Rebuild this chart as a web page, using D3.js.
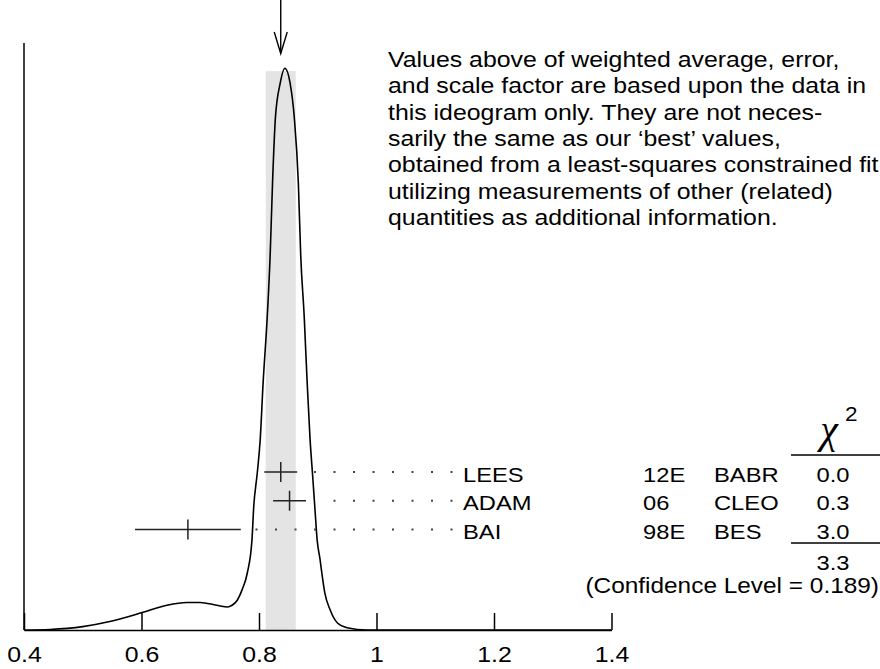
<!DOCTYPE html>
<html>
<head>
<meta charset="utf-8">
<script src="https://cdn.jsdelivr.net/npm/d3@7"></script>
<style>
  html, body { margin: 0; padding: 0; background: #fff; }
  svg { display: block; font-family: "Liberation Sans", Arial, Helvetica, sans-serif; }
</style>
</head>
<body>
<div id="chart"></div>
<script>
// Measurements in the ideogram
const names = ["LEES", "ADAM", "BAI"];
const years = ["12E", "06", "98E"];
const experiments = ["BABR", "CLEO", "BES"];
const values = [0.837, 0.852, 0.679];
const errors = [0.028, 0.028, 0.090];
const chi2 = ["0.0", "0.3", "3.0"];
const chi2Total = "3.3";
const confidence = "(Confidence Level = 0.189)";

// Weighted average and its error (arrow + grey band)
const average = 0.837;
const averageError = 0.0255;

// Ideogram curve (x value, relative height)
const curveX = [0.400, 0.444, 0.500, 0.546, 0.601, 0.643, 0.677, 0.700, 0.728, 0.747,
  0.754, 0.763, 0.771, 0.780, 0.788, 0.791, 0.797, 0.802, 0.807, 0.814, 0.819, 0.823,
  0.828, 0.836, 0.844, 0.853, 0.860, 0.867, 0.871, 0.877, 0.882, 0.887, 0.891, 0.895,
  0.899, 0.904, 0.907, 0.912, 0.921, 0.934, 0.950, 0.984, 1.100, 1.400];
const curveY = [0.000, 0.001, 0.006, 0.015, 0.031, 0.044, 0.049, 0.049, 0.044, 0.041,
  0.044, 0.053, 0.071, 0.101, 0.160, 0.219, 0.279, 0.338, 0.440, 0.557, 0.667, 0.795,
  0.913, 0.973, 1.000, 0.973, 0.913, 0.795, 0.667, 0.557, 0.440, 0.338, 0.279, 0.219,
  0.160, 0.125, 0.101, 0.066, 0.036, 0.012, 0.004, 0.000, 0.000, 0.000];

const xTicks = [0.4, 0.6, 0.8, 1.0, 1.2, 1.4];

const noteLines = [
  "Values above of weighted average, error,",
  "and scale factor are based upon the data in",
  "this ideogram only.  They are not neces-",
  "sarily the same as our \u2018best\u2019 values,",
  "obtained from a least-squares constrained fit",
  "utilizing measurements of other (related)",
  "quantities as additional information."
];

const width = 880, height = 669;
const SX = 1.13; // glyphs in the picture are a bit wider than normal
const FS = 21;

const svg = d3.select("#chart").append("svg")
  .attr("width", width)
  .attr("height", height);

const x = d3.scaleLinear().domain([0.4, 1.4]).range([24, 611.5]);
const y = d3.scaleLinear().domain([0, 1.045]).range([630, 43]);
const row = d3.scaleLinear().domain([0, 2]).range([472, 529.5]);

// helper: horizontally widened text
function label(parent, px, py, str, anchor, size) {
  return parent.append("text")
    .attr("transform", `translate(${px},${py}) scale(${SX},1)`)
    .attr("text-anchor", anchor || "start")
    .style("font-size", (size || FS) + "px")
    .attr("fill", "#000")
    .text(str);
}

// grey band for average +- error
svg.append("rect")
  .attr("x", x(average - averageError))
  .attr("width", x(average + averageError) - x(average - averageError))
  .attr("y", y(0.995))
  .attr("height", y(0) - y(0.995))
  .attr("fill", "#e4e4e4");

// arrow pointing at the average
const ax = x(average);
svg.append("line")
  .attr("x1", ax).attr("x2", ax).attr("y1", 0).attr("y2", 53)
  .attr("stroke", "#000").attr("stroke-width", 1.4);
svg.append("path")
  .attr("d", `M${ax - 6.5},32 L${ax},53.5 L${ax + 6.5},32`)
  .attr("fill", "none").attr("stroke", "#000").attr("stroke-width", 1.4);

// axes
svg.append("line")
  .attr("x1", x(0.4)).attr("x2", x(0.4)).attr("y1", 43).attr("y2", 630)
  .attr("stroke", "#000").attr("stroke-width", 1.5);

const xAxis = svg.append("g")
  .attr("transform", "translate(0,630)")
  .call(d3.axisBottom(x).tickValues(xTicks).tickSizeInner(-17).tickSizeOuter(0)
    .tickFormat(d => d3.format("")(+d.toFixed(1))));
xAxis.select(".domain").attr("stroke", "#000").attr("stroke-width", 1.5);
xAxis.selectAll(".tick line").attr("stroke", "#000").attr("stroke-width", 1.5);
xAxis.selectAll(".tick text")
  .attr("y", null).attr("dy", null)
  .attr("transform", `translate(0,32) scale(${SX},1)`)
  .attr("fill", "#000")
  .style("font-size", "22px")
  .style("font-family", "'Liberation Sans', Arial, sans-serif");

// ideogram curve
const curveData = curveX.map((v, i) => [v, curveY[i]]);
svg.append("path")
  .datum(curveData)
  .attr("fill", "none")
  .attr("stroke", "#000")
  .attr("stroke-width", 1.6)
  .attr("d", d3.line().x(d => x(d[0])).y(d => y(d[1])).curve(d3.curveMonotoneX));

// measurements: error bars, dotted leaders and labels
const dotEnd = 451.5, dotStep = 19.5;
const meas = svg.append("g");
values.forEach((v, i) => {
  const cy = row(i);
  const g = meas.append("g");
  g.append("line")
    .attr("x1", x(v - errors[i])).attr("x2", x(v + errors[i]))
    .attr("y1", cy).attr("y2", cy)
    .attr("stroke", "#222").attr("stroke-width", 1.5);
  g.append("line")
    .attr("x1", x(v)).attr("x2", x(v))
    .attr("y1", cy - 10).attr("y2", cy + 10)
    .attr("stroke", "#222").attr("stroke-width", 1.5);

  const right = x(v + errors[i]);
  const dots = d3.range(0, 30).map(k => dotEnd - k * dotStep).filter(px => px > right + 12);
  g.selectAll("rect.dot").data(dots).enter().append("rect")
    .attr("class", "dot")
    .attr("x", d => d - 1).attr("y", cy - 1)
    .attr("width", 2).attr("height", 2)
    .attr("fill", "#444");

  label(svg, 463, cy + 9.5, names[i]);
  label(svg, 643, cy + 9.5, years[i]);
  label(svg, 714, cy + 9.5, experiments[i]);
  label(svg, 833, cy + 9.5, chi2[i], "middle");
});

// chi-square column
svg.append("text")
  .attr("x", 829).attr("y", 443)
  .attr("text-anchor", "middle")
  .style("font-family", "'Liberation Serif', 'DejaVu Serif', serif")
  .style("font-size", "40px")
  .style("font-style", "italic")
  .text("\u03c7");
label(svg, 845, 421, "2", "start", 20);

svg.append("line")
  .attr("x1", 791).attr("x2", 880).attr("y1", 455).attr("y2", 455)
  .attr("stroke", "#000").attr("stroke-width", 1.3);
svg.append("line")
  .attr("x1", 791).attr("x2", 880).attr("y1", 543).attr("y2", 543)
  .attr("stroke", "#000").attr("stroke-width", 1.3);
label(svg, 833, 570, chi2Total, "middle");
label(svg, 879, 593, confidence, "end", 21.6);

// note on the upper right
const note = svg.append("g");
noteLines.forEach((t, i) => {
  label(note, 388, 67 + i * 26.3, t, "start", 22);
});
</script>
</body>
</html>
